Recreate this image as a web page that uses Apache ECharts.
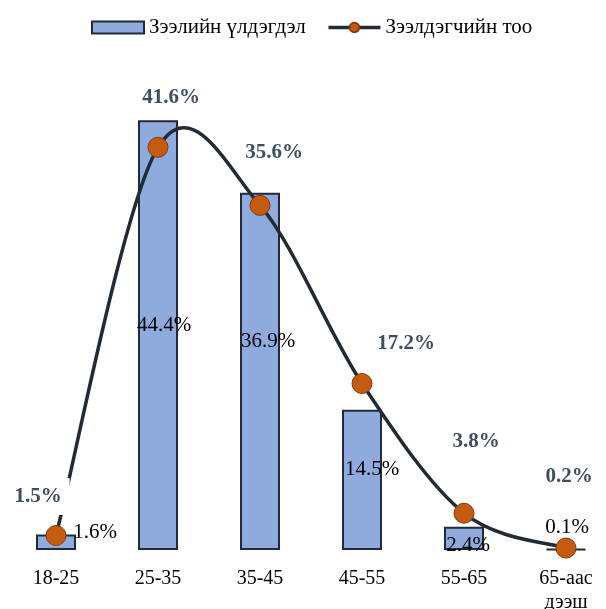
<!DOCTYPE html>
<html><head><meta charset="utf-8">
<script src="https://cdn.jsdelivr.net/npm/echarts@6/dist/echarts.min.js"></script>
<style>html,body{margin:0;padding:0;background:#fff}#chart{width:606px;height:609px}</style>
</head><body><div id="chart"></div>
<script>
// Age groups and the two shares (%) per group
const categories = ['18-25', '25-35', '35-45', '45-55', '55-65', '65-аас\nдээш'];
const loanBalance = [1.6, 44.4, 36.9, 14.5, 2.4, 0.1];
const borrowers = [1.5, 41.6, 35.6, 17.2, 3.8, 0.2];
const seriesNames = ['Зээлийн үлдэгдэл', 'Зээлдэгчийн тоо'];

// Per-point label nudges in px, keeping the percentages clear of the marks
const barLabelOffsets = [[39, -10], [6, -10], [8, -30], [10, -10], [4, 7], [1, -22]];
const lineLabelOffsets = [[-18, -39], [13, -50], [14, -53], [44, -40], [12, -72], [3, -71]];

const FONT = '"Liberation Serif", "Times New Roman", serif';
const LINE_COLOR = '#222A35';
const pct = v => v.toFixed(1) + '%';

// Cardinal-spline path (tension 1/6) through the borrower points, in pixel space
function smoothPath(pts) {
  let d = 'M' + pts[0][0] + ',' + pts[0][1];
  for (let i = 0; i < pts.length - 1; i++) {
    const p0 = pts[Math.max(i - 1, 0)];
    const p1 = pts[i];
    const p2 = pts[i + 1];
    const p3 = pts[Math.min(i + 2, pts.length - 1)];
    const c1 = [p1[0] + (p2[0] - p0[0]) / 6, p1[1] + (p2[1] - p0[1]) / 6];
    const c2 = [p2[0] - (p3[0] - p1[0]) / 6, p2[1] - (p3[1] - p1[1]) / 6];
    d += ' C' + c1[0] + ',' + c1[1] + ' ' + c2[0] + ',' + c2[1] + ' ' + p2[0] + ',' + p2[1];
  }
  return d;
}

const chart = echarts.init(document.getElementById('chart'), null, { renderer: 'canvas' });

chart.setOption({
  backgroundColor: '#fff',
  animation: false,
  textStyle: { fontFamily: FONT },
  legend: {
    top: 12,
    left: 86,
    itemWidth: 52,
    itemHeight: 12,
    itemGap: 21,
    textStyle: { fontFamily: FONT, fontSize: 21, color: '#000' },
    data: [
      { name: seriesNames[0], icon: 'rect',
        itemStyle: { color: '#8FAADC', borderColor: LINE_COLOR, borderWidth: 2 } },
      { name: seriesNames[1],
        lineStyle: { color: LINE_COLOR, width: 3.5, opacity: 1 } }
    ]
  },
  grid: {
    left: 5, width: 612, top: 66, bottom: 59,
    containLabel: false, outerBoundsMode: 'none'
  },
  xAxis: {
    type: 'category',
    data: categories,
    axisLine: { show: false },
    axisTick: { show: false },
    axisLabel: {
      fontFamily: FONT, fontSize: 20, color: '#000',
      margin: 17, lineHeight: 24, interval: 0
    }
  },
  yAxis: {
    type: 'value', min: 0, max: 50,
    show: false,
    splitLine: { show: false }
  },
  series: [
    {
      name: seriesNames[0],
      type: 'bar',
      barWidth: 40,
      z: 2,
      itemStyle: { color: '#8FAADC', borderColor: LINE_COLOR, borderWidth: 2 },
      data: loanBalance.map((v, i) => ({
        value: v,
        label: { offset: barLabelOffsets[i] }
      })),
      label: {
        show: true,
        position: 'inside',
        formatter: p => pct(p.value),
        fontFamily: FONT, fontSize: 21, color: '#000'
      }
    },
    {
      // smoothed connector line drawn through the borrower values
      type: 'custom',
      z: 3,
      silent: true,
      data: borrowers.map((v, i) => [i, v]),
      encode: { x: 0, y: 1 },
      renderItem: (params, api) => {
        if (params.dataIndex !== 0) return null;
        const pts = borrowers.map((v, i) => api.coord([i, v]));
        return {
          type: 'path',
          shape: { pathData: smoothPath(pts) },
          style: { fill: 'none', stroke: LINE_COLOR, lineWidth: 3.5 }
        };
      }
    },
    {
      name: seriesNames[1],
      type: 'line',
      z: 4,
      symbol: 'circle',
      symbolSize: 20,
      lineStyle: { color: LINE_COLOR, width: 3.5, opacity: 0 },
      itemStyle: { color: '#C55A11', borderColor: '#843C0C', borderWidth: 1 },
      data: borrowers.map((v, i) => ({
        value: v,
        label: { offset: lineLabelOffsets[i] }
      })),
      label: {
        show: true,
        position: 'inside',
        formatter: p => pct(p.value),
        fontFamily: FONT, fontSize: 21, fontWeight: 'bold', color: '#3F4D60',
        backgroundColor: '#fff', padding: [8, 8]
      }
    }
  ]
});
</script></body></html>
